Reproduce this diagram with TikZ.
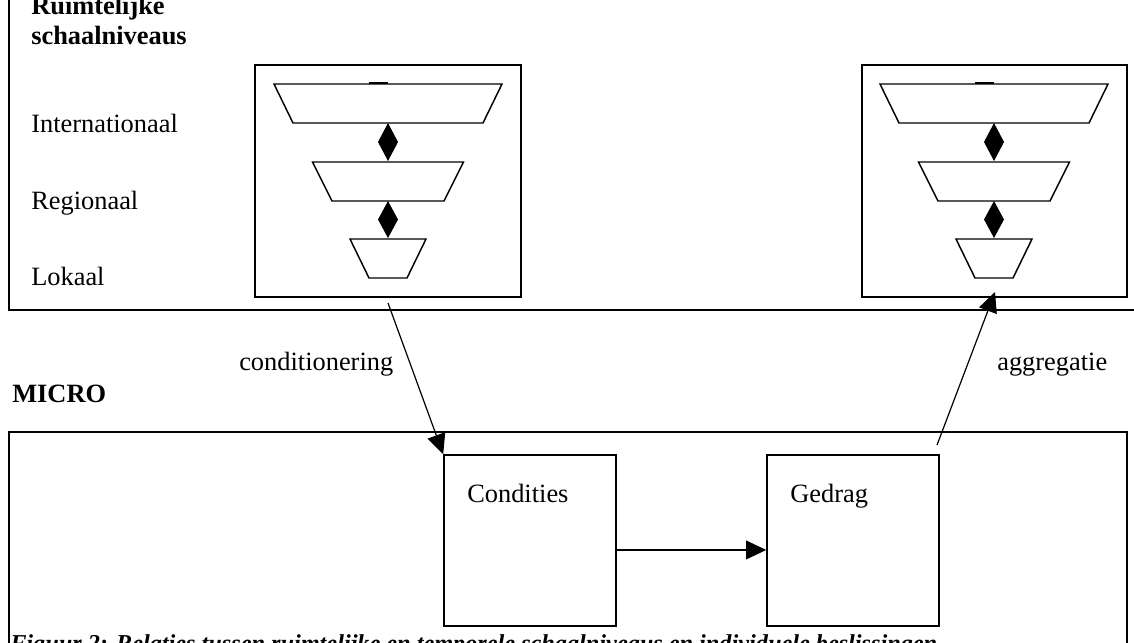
\documentclass[tikz,border=0pt]{standalone}
\usepackage{fontspec}
\setmainfont{Liberation Serif}
\usetikzlibrary{arrows.meta,fit}
\newcommand\funnelstack[1]{%
  \draw[trap] ({#1-114},84) -- ({#1+114},84) -- ({#1+95},123) -- ({#1-95},123) -- cycle;
  \draw[line width=2pt] ({#1-19},83) -- ({#1},83);
  \fill ({#1},123) -- ({#1+10},142) -- ({#1},161) -- ({#1-10},142) -- cycle;
  \draw[trap] ({#1-75.5},162) -- ({#1+75.5},162) -- ({#1+56},201) -- ({#1-56},201) -- cycle;
  \fill ({#1},201) -- ({#1+10},219.5) -- ({#1},238) -- ({#1-10},219.5) -- cycle;
  \draw[trap] ({#1-38},239) -- ({#1+38},239) -- ({#1+19},278) -- ({#1-19},278) -- cycle;
}
\begin{document}
\begin{tikzpicture}[x=0.75pt,y=-0.75pt,
  outer/.style={line width=1.5pt},
  innerbox/.style={draw,line width=0.9pt,inner sep=0pt},
  trap/.style={line width=1.1pt,line join=miter},
  conn/.style={line width=0.9pt,-{Triangle[length=15pt,width=14pt]}},
  lbl/.style={anchor=base west,inner sep=0pt,font=\fontsize{19.8pt}{24pt}\selectfont},
  blbl/.style={anchor=base west,inner sep=0pt,font=\fontsize{19.8pt}{24pt}\selectfont\bfseries},
  captext/.style={anchor=base west,inner sep=0pt,font=\fontsize{18.2pt}{22pt}\selectfont\bfseries\itshape}]
\useasboundingbox (0,0) rectangle (1134,642);
\clip (0,0) rectangle (1134,642);
\fill[white] (0,0) rectangle (1134,642);
% outer boxes
\draw[outer] (9,-20) rectangle (1150,310);
\draw[outer] (9,432) rectangle (1127,700);
% texts top
\node[blbl] (t1) at (31,15) {Ruimtelijke};
\node[blbl] (t2) at (31,45) {schaalniveaus};
\node[lbl] (intl) at (31,132) {Internationaal};
\node[lbl] (reg) at (31,209) {Regionaal};
\node[lbl] (lok) at (31,285) {Lokaal};
\node[blbl] (micro) at (12,402) {MICRO};
\node[lbl] (condl) at (239,370) {conditionering};
\node[lbl] (aggl) at (997,370) {aggregatie};
% inner boxes
\coordinate (la) at (255,65); \coordinate (lb) at (521,297);
\node[innerbox,fit=(la)(lb)] (Lbox) {};
\coordinate (ra) at (862,65); \coordinate (rb) at (1127,297);
\node[innerbox,fit=(ra)(rb)] (Rbox) {};
\funnelstack{388}
\funnelstack{994}
% micro boxes
\coordinate (ca) at (444,455); \coordinate (cb) at (616,626);
\node[innerbox,line width=1.2pt,fit=(ca)(cb)] (Cond) {};
\coordinate (ga) at (767,455); \coordinate (gb) at (939,626);
\node[innerbox,line width=1.2pt,fit=(ga)(gb)] (Ged) {};
\node[lbl] (condt) at (467,502) {Condities};
\node[lbl] (gedt) at (790,502) {Gedrag};
% connectors
\coordinate (cstart) at (388,303);
\draw[conn] (cstart) -- (Cond.north west);
\coordinate (astart) at (937,445);
\coordinate (aend) at (995,292);
\draw[conn] (astart) -- (aend);
\draw[conn] ([yshift=-7.1pt]Cond.east) -- ([yshift=-7.1pt]Ged.west);
% caption
\node[captext] (caption) at (10,651) {Figuur 2: Relaties tussen ruimtelijke en temporele schaalniveaus en individuele beslissingen};
\end{tikzpicture}
\end{document}
